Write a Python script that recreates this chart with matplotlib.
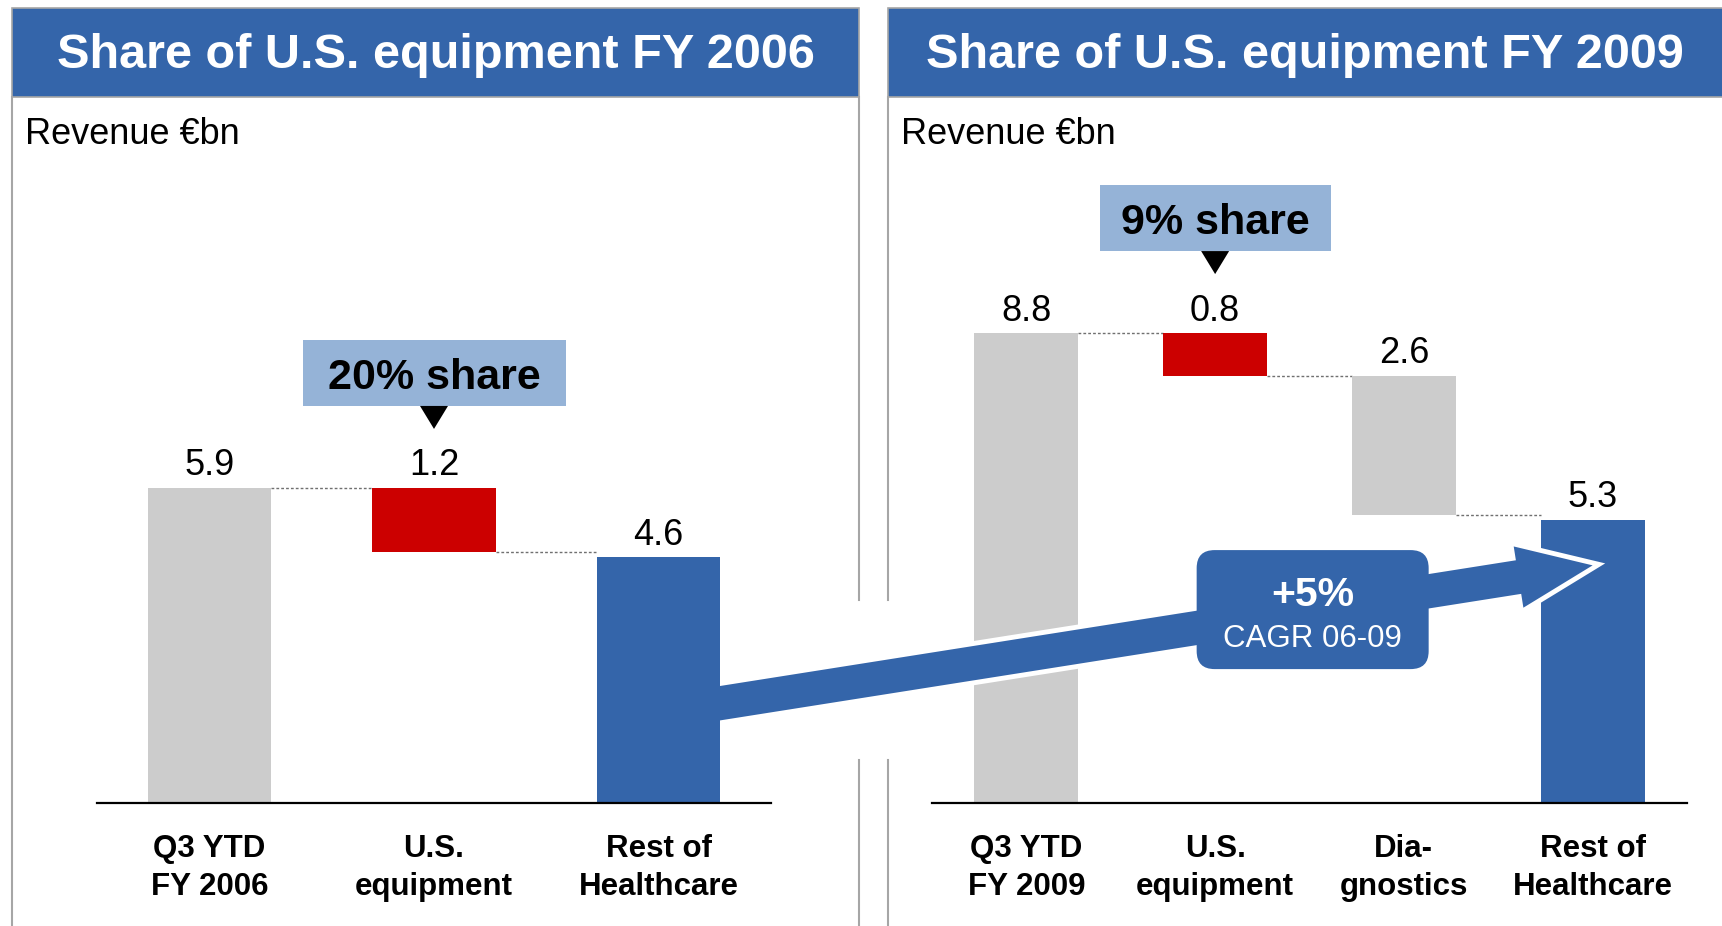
import matplotlib.pyplot as plt
from matplotlib.patches import Rectangle, Polygon, FancyBboxPatch
import numpy as np

plt.rcParams['font.family'] = ['Liberation Sans', 'DejaVu Sans']

W, H = 1722, 926

# revenue bridge FY 2006 (EUR bn)
cats_06 = ['Q3 YTD\nFY 2006', 'U.S.\nequipment', 'Rest of\nHealthcare']
vals_06 = [5.9, 1.2, 4.6]
# revenue bridge FY 2009 (EUR bn)
cats_09 = ['Q3 YTD\nFY 2009', 'U.S.\nequipment', 'Dia-\ngnostics', 'Rest of\nHealthcare']
vals_09 = [8.8, 0.8, 2.6, 5.3]

titles = ['Share of U.S. equipment FY 2006', 'Share of U.S. equipment FY 2009']
shares = ['20% share', '9% share']
cagr_pct = '+5%'
cagr_txt = 'CAGR 06-09'

BLUE = '#3465aa'
GRAY = '#cccccc'
RED = '#cc0000'
LIGHT = '#95b3d7'
FRAME = '#a6a6a6'

fig = plt.figure(figsize=(W / 100, H / 100), dpi=100)

# background layer: headers, frames, unit text
bg = fig.add_axes([0, 0, 1, 1], zorder=0)
bg.set_xlim(0, W)
bg.set_ylim(H, 0)
bg.axis('off')

for (x0, x1), title in zip([(12, 859), (888, W + 2)], titles):
    bg.add_patch(Rectangle((x0, 8), x1 - x0, 89, fc=BLUE, ec=FRAME, lw=1.2))
    bg.text((x0 + min(x1, W)) / 2, 55, title, color='white', fontsize=35,
            fontweight='bold', ha='center', va='center')
    bg.text(x0 + 13, 134, 'Revenue €bn', fontsize=26, ha='left', va='center')

bg.plot([12, 12], [97, H], color=FRAME, lw=1.5)
for x in (859, 888):
    bg.plot([x, x], [97, 600], color=FRAME, lw=1.5)
    bg.plot([x, x], [760, H], color=FRAME, lw=1.5)

ax1 = fig.add_axes([97 / W, 123 / H, 674 / W, 534 / H], zorder=1)
ax2 = fig.add_axes([932 / W, 123 / H, 755 / W, 534 / H], zorder=1)

BW = 0.55


def waterfall(ax, cats, vals):
    n = len(vals)
    x = np.arange(n)
    level = vals[0]
    bottoms = [0]
    for v in vals[1:-1]:
        level -= v
        bottoms.append(level)
    bottoms.append(0)
    tops = [b + v for b, v in zip(bottoms, vals)]
    colors = [GRAY] + [RED] + [GRAY] * (n - 3) + [BLUE]
    ax.bar(x, vals, bottom=bottoms, width=BW, color=colors, zorder=2)
    # dashed connectors between neighbouring bars
    for i in range(n - 1):
        y = tops[0] if i == 0 else bottoms[i]
        ax.plot([i + BW / 2, i + 1 - BW / 2], [y, y], ls=(0, (2, 1.5)),
                color='#707070', lw=1, zorder=1)
    for i in range(n):
        ax.annotate(f'{vals[i]:.1f}', (i, tops[i]), xytext=(0, 9),
                    textcoords='offset points', ha='center', va='baseline',
                    fontsize=26)
    ax.set_xlim(-0.5, n - 0.5)
    ax.set_ylim(0, 10)
    ax.set_xticks(x, cats, fontsize=22.5, fontweight='bold', linespacing=1.35)
    ax.tick_params(axis='x', length=0, pad=22)
    ax.set_yticks([])
    for s in ('top', 'left', 'right'):
        ax.spines[s].set_visible(False)
    ax.spines['bottom'].set_linewidth(1.6)
    ax.patch.set_alpha(0)
    return tops


tops_06 = waterfall(ax1, cats_06, vals_06)
tops_09 = waterfall(ax2, cats_09, vals_09)

# top layer: share call-outs, growth arrow, CAGR badge
top = fig.add_axes([0, 0, 1, 1], zorder=3)
top.set_xlim(0, W)
top.set_ylim(H, 0)
top.axis('off')
top.patch.set_alpha(0)


def to_px(ax, xy):
    return top.transData.inverted().transform(ax.transData.transform(xy))


for ax, tops, label, bw in [(ax1, tops_06, shares[0], 263), (ax2, tops_09, shares[1], 231)]:
    cx, cy = to_px(ax, (1, tops[1]))
    ybot = cy - 82
    top.add_patch(Rectangle((cx - bw / 2, ybot - 66), bw, 66, fc=LIGHT, ec='none'))
    top.text(cx, ybot - 28, label, fontsize=31, fontweight='bold',
             ha='center', va='center')
    top.add_patch(Polygon([(cx - 14, ybot), (cx + 14, ybot), (cx, ybot + 23)],
                          closed=True, fc='black', ec='none'))

# arrow from FY 2006 rest bar to FY 2009 rest bar
start = to_px(ax1, (2 + BW / 2, 1.87))
tip = to_px(ax2, (3, 4.45))
L = np.hypot(*(tip - start))
d = (tip - start) / L
nrm = np.array([-d[1], d[0]])
uv = [(-20, 17), (L - 75, 17), (L - 75, 31), (L, 0), (L - 75, -31),
      (L - 75, -17), (-20, -17)]
pts = [start + u * d + v * nrm for u, v in uv]

halo = Polygon(pts, closed=True, fc='white', ec='white', lw=7,
               joinstyle='miter', zorder=1)
top.add_patch(halo)
halo.set_clip_path(Rectangle((start[0], 0), W, H, transform=top.transData))
top.add_patch(Polygon(pts, closed=True, fc=BLUE, ec='none', zorder=2))

t = 0.679
bc = start + t * (tip - start)
bw, bh = 232, 119
top.add_patch(FancyBboxPatch((bc[0] - bw / 2, bc[1] - bh / 2), bw, bh,
                             boxstyle='round,pad=0,rounding_size=18',
                             fc=BLUE, ec='none', zorder=3))
top.text(bc[0], bc[1] - 15, cagr_pct, color='white', fontsize=29.5,
         fontweight='bold', ha='center', va='center', zorder=4)
top.text(bc[0], bc[1] + 29, cagr_txt, color='white', fontsize=22.5,
         ha='center', va='center', zorder=4)

fig.savefig('out.png', dpi=100)
